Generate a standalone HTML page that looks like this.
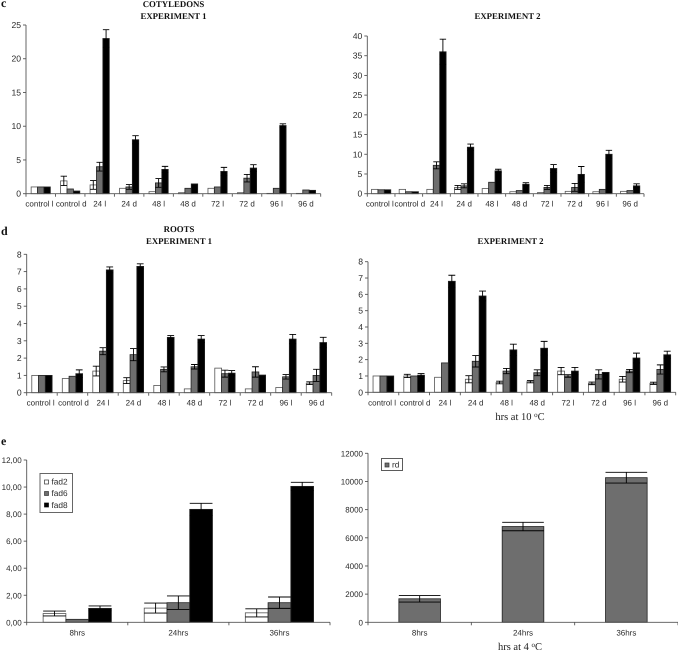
<!DOCTYPE html>
<html lang="en">
<head>
<meta charset="utf-8">
<title>Fatty acid desaturase expression charts</title>
<style>
html,body{margin:0;padding:0;background:#fff;width:678px;height:650px;overflow:hidden}
svg{display:block;filter:blur(0.35px);text-rendering:geometricPrecision}
.tick{font-family:"Liberation Sans",sans-serif;fill:#2a2a2a}
.head{font-family:"Liberation Serif",serif;font-weight:bold;fill:#111}
.note{font-family:"Liberation Serif",serif;fill:#222}
</style>
</head>
<body>
<svg id="figure" xmlns="http://www.w3.org/2000/svg" width="678" height="650" viewBox="0 0 678 650">
  <text class="head" x="1" y="7" font-size="12">c</text>
  <text class="head" x="1" y="235" font-size="12">d</text>
  <text class="head" x="1" y="445" font-size="12">e</text>
  <text class="head" x="173.5" y="7" font-size="8.8" text-anchor="middle">COTYLEDONS</text>
  <text class="head" x="173.5" y="19" font-size="8.8" text-anchor="middle">EXPERIMENT 1</text>
  <text class="head" x="507.5" y="19" font-size="8.8" text-anchor="middle">EXPERIMENT 2</text>
  <text class="head" x="179" y="232" font-size="8.8" text-anchor="middle">ROOTS</text>
  <text class="head" x="179" y="244" font-size="8.8" text-anchor="middle">EXPERIMENT 1</text>
  <text class="head" x="510.5" y="244" font-size="8.8" text-anchor="middle">EXPERIMENT 2</text>
  <text class="note" x="520" y="420" font-size="10.5" text-anchor="middle">hrs at 10 <tspan font-size="7" dy="-3">o</tspan><tspan dy="3">C</tspan></text>
  <text class="note" x="520" y="650" font-size="10.5" text-anchor="middle">hrs at 4 <tspan font-size="7" dy="-3">o</tspan><tspan dy="3">C</tspan></text>
  <g>
    <rect x="40" y="473.5" width="32.5" height="39" fill="#fff" stroke="#666" stroke-width="1"/>
    <rect x="44.5" y="480" width="4" height="4" fill="#fff" stroke="#333" stroke-width="0.7"/>
    <text class="tick" x="51.5" y="484.5" font-size="8.3">fad2</text>
    <rect x="44.5" y="491.5" width="4" height="4" fill="#6e6e6e" stroke="#333" stroke-width="0.7"/>
    <text class="tick" x="51.5" y="496.2" font-size="8.3">fad6</text>
    <rect x="44.5" y="503" width="4" height="4" fill="#000" stroke="#000" stroke-width="0.7"/>
    <text class="tick" x="51.5" y="507.8" font-size="8.3">fad8</text>
  </g>
  <g>
    <rect x="381.5" y="458.5" width="21" height="12" fill="#fff" stroke="#333" stroke-width="0.8"/>
    <rect x="385" y="463" width="4" height="4" fill="#6e6e6e" stroke="#333" stroke-width="0.7"/>
    <text class="tick" x="392" y="467.5" font-size="8.3">rd</text>
  </g>
</svg>
<script>
const timeCategories = ["control l","control d","24 l","24 d","48 l","48 d","72 l","72 d","96 l","96 d"];
const coldCategories = ["8hrs","24hrs","36hrs"];

const cot1Ticks = [0,5,10,15,20,25];
const cot1Fad2 = [1,1.9,1.3,0.8,0.3,0.15,0.8,0.15,0.05,0.05];
const cot1Fad2Err = [0,0.7,0.65,0,0,0,0,0,0,0];
const cot1Fad6 = [1,0.7,4,1,1.6,0.8,1,2.3,0.8,0.55];
const cot1Fad6Err = [0,0,0.65,0.35,0.65,0,0,0.55,0,0];
const cot1Fad8 = [1,0.4,23,8,3.6,1.45,3.3,3.8,10.1,0.5];
const cot1Fad8Err = [0,0,1.3,0.6,0.45,0,0.6,0.5,0.25,0];

const cot2Ticks = [0,5,10,15,20,25,30,35,40];
const cot2Fad2 = [1.1,1.1,1.1,1.6,1.3,0.5,0.3,0.6,0.5,0.6];
const cot2Fad2Err = [0,0,0,0.5,0,0,0,0,0,0];
const cot2Fad6 = [1,0.5,7.2,2,2.9,0.8,1.6,1.6,1.1,0.8];
const cot2Fad6Err = [0,0,0.9,0.5,0,0,0.5,1,0,0];
const cot2Fad8 = [1,0.5,36,11.8,5.8,2.4,6.4,4.9,10,2];
const cot2Fad8Err = [0,0,3.2,0.8,0.4,0.4,1,2,1,0.5];

const root1Ticks = [0,1,2,3,4,5,6,7,8];
const root1Fad2 = [1,0.82,1.25,0.7,0.42,0.22,1.42,0.22,0.3,0.55];
const root1Fad2Err = [0,0,0.28,0.17,0,0,0,0,0,0.08];
const root1Fad6 = [1,0.95,2.4,2.2,1.35,1.5,1.1,1.2,0.92,1];
const root1Fad6Err = [0,0,0.2,0.35,0.14,0.13,0.2,0.3,0.13,0.35];
const root1Fad8 = [1,1.1,7.1,7.3,3.2,3.1,1.13,1.02,3.1,2.9];
const root1Fad8Err = [0,0.22,0.17,0.15,0.1,0.2,0.15,0,0.27,0.3];

const root2Ticks = [0,1,2,3,4,5,6,7,8];
const root2Fad2 = [1,1,0.92,0.8,0.6,0.65,1.3,0.55,0.8,0.55];
const root2Fad2Err = [0,0.1,0,0.22,0.08,0.07,0.22,0.08,0.17,0.07];
const root2Fad6 = [1,1,1.8,1.9,1.3,1.2,1,1.1,1.3,1.4];
const root2Fad6Err = [0,0,0,0.35,0.16,0.18,0.08,0.28,0.1,0.28];
const root2Fad8 = [1,1.05,6.8,5.9,2.6,2.7,1.3,1.22,2.1,2.3];
const root2Fad8Err = [0,0.1,0.37,0.3,0.35,0.42,0.22,0,0.3,0.22];

const fadTicks = ["0,00","2,00","4,00","6,00","8,00","10,00","12,00"];
const fad2Cold = [0.65,1.05,0.7];
const fad2ColdErr = [0.18,0.37,0.3];
const fad6Cold = [0.22,1.45,1.45];
const fad6ColdErr = [0,0.5,0.42];
const fad8Cold = [1.03,8.35,10.05];
const fad8ColdErr = [0.18,0.45,0.3];

const rdTicks = [0,2000,4000,6000,8000,10000,12000];
const rdCold = [1670,6800,10270];
const rdColdErr = [230,300,380];

const svgNS = "http://www.w3.org/2000/svg";
const fig = document.getElementById("figure");
const FILLS = ["#ffffff","#6e6e6e","#000000"];

function svgEl(tag, parent, attrs) {
  const el = document.createElementNS(svgNS, tag);
  for (const k in attrs) el.setAttribute(k, attrs[k]);
  parent.appendChild(el);
  return el;
}

function drawChart(cfg) {
  const g = svgEl("g", fig, {});
  
  

  const numericTicks = cfg.ticks.map(t => typeof t === "number" ? t : parseFloat(String(t).replace(",", ".")));
  const maxTick = Math.max.apply(null, numericTicks);
  const yScale = v => cfg.y0 - (v / maxTick) * (cfg.y0 - cfg.yTop);
  const catW = (cfg.xRight - cfg.xLeft) / cfg.categories.length;
  const xCat = i => cfg.xLeft + catW * i;
  const bw = catW * cfg.barFrac;
  const n = cfg.series.length;

  cfg.series.forEach((values, s) => {
    const errs = cfg.errors[s];
    const fill = cfg.fills ? cfg.fills[s] : FILLS[s];
    values.forEach((v, i) => {
      const x = xCat(i) + catW / 2 - (bw * n) / 2 + bw * s;
      const top = yScale(v);
      const bar = svgEl("rect", g, {
        x: x, y: top, width: bw,
        height: Math.max(cfg.y0 - top, 0),
        fill: fill,
        stroke: fill === "#ffffff" ? "#555" : "#222",
        "stroke-width": 0.8
      });
      
      
    });
    values.forEach((v, i) => {
      const e = errs[i];
      if (!e) return;
      const cx = xCat(i) + catW / 2 - (bw * n) / 2 + bw * s + bw / 2;
      const hi = yScale(v + e), lo = yScale(v - e);
      const err = svgEl("path", g, {
        d: "M" + cx + " " + hi + "V" + lo +
           "M" + (cx - bw / 2) + " " + hi + "H" + (cx + bw / 2) +
           "M" + (cx - bw / 2) + " " + lo + "H" + (cx + bw / 2),
        fill: "none", stroke: "#000", "stroke-width": 0.9
      });
      
      
    });
  });

  const axisPath = svgEl("path", g, {
    d: "M" + cfg.xLeft + " " + cfg.yTop + "V" + cfg.y0 + "H" + cfg.xRight,
    fill: "none", stroke: "#555", "stroke-width": 0.9
  });
  
  

  cfg.ticks.forEach((t, i) => {
    const y = yScale(numericTicks[i]);
    const tm = svgEl("path", g, { d: "M" + (cfg.xLeft - 3) + " " + y + "H" + cfg.xLeft, stroke: "#555", "stroke-width": 0.9 });
    
    
    const lab = svgEl("text", g, { class: "tick", x: cfg.xLeft - 5, y: y + 3, "font-size": cfg.yFontSize, "text-anchor": "end" });
    lab.textContent = t;
    
    
  });

  cfg.categories.forEach((c, i) => {
    const tm = svgEl("path", g, { d: "M" + xCat(i) + " " + cfg.y0 + "V" + (cfg.y0 + 3), stroke: "#555", "stroke-width": 0.9 });
    
    
    const nudge = cfg.categories.length > 5 ? (i === 0 ? -1.3 : i === 1 ? 1 : 0) : 0;
    const lab = svgEl("text", g, { class: "tick", x: xCat(i) + catW / 2 + nudge, y: cfg.y0 + 13, "font-size": cfg.fontSize, "text-anchor": "middle" });
    lab.textContent = c;
    
    
  });
  const endTick = svgEl("path", g, { d: "M" + cfg.xRight + " " + cfg.y0 + "V" + (cfg.y0 + 3), stroke: "#555", "stroke-width": 0.9 });
  
  
}

drawChart({ name:"cotyledons-experiment-1", xLeft:26, xRight:320.7, y0:193.7, yTop:25, barFrac:0.217, fontSize:8, yFontSize:8.6,
  categories:timeCategories, ticks:cot1Ticks,
  series:[cot1Fad2,cot1Fad6,cot1Fad8], errors:[cot1Fad2Err,cot1Fad6Err,cot1Fad8Err] });
drawChart({ name:"cotyledons-experiment-2", xLeft:367.3, xRight:644, y0:193.7, yTop:36, barFrac:0.232, fontSize:8, yFontSize:8.6,
  categories:timeCategories, ticks:cot2Ticks,
  series:[cot2Fad2,cot2Fad6,cot2Fad8], errors:[cot2Fad2Err,cot2Fad6Err,cot2Fad8Err] });
drawChart({ name:"roots-experiment-1", xLeft:26.7, xRight:331.7, y0:392.7, yTop:254.3, barFrac:0.222, fontSize:8, yFontSize:8.6,
  categories:timeCategories, ticks:root1Ticks,
  series:[root1Fad2,root1Fad6,root1Fad8], errors:[root1Fad2Err,root1Fad6Err,root1Fad8Err] });
drawChart({ name:"roots-experiment-2", xLeft:368, xRight:675.7, y0:392.3, yTop:261.7, barFrac:0.224, fontSize:8, yFontSize:8.6,
  categories:timeCategories, ticks:root2Ticks,
  series:[root2Fad2,root2Fad6,root2Fad8], errors:[root2Fad2Err,root2Fad6Err,root2Fad8Err] });
drawChart({ name:"fad-cold-chart", xLeft:26.7, xRight:330, y0:622.3, yTop:460, barFrac:0.225, fontSize:8, yFontSize:8,
  categories:coldCategories, ticks:fadTicks,
  series:[fad2Cold,fad6Cold,fad8Cold], errors:[fad2ColdErr,fad6ColdErr,fad8ColdErr] });
drawChart({ name:"rd-cold-chart", xLeft:368, xRight:678, y0:622.3, yTop:453.3, barFrac:0.403, fontSize:8, yFontSize:8,
  categories:coldCategories, ticks:rdTicks, fills:["#6e6e6e"],
  series:[rdCold], errors:[rdColdErr] });
</script>
</body>
</html>
